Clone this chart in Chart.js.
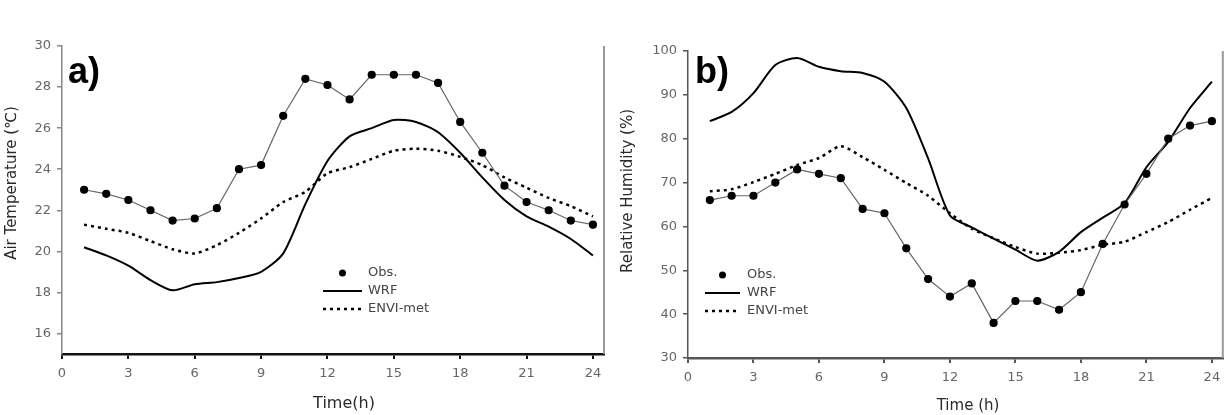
<!DOCTYPE html>
<html>
<head>
<meta charset="utf-8">
<script src="https://cdn.jsdelivr.net/npm/chart.js@4/dist/chart.umd.min.js"></script>
<style>
  body { margin: 0; background: #fff; }
  .panel { position: absolute; top: 0; width: 614px; height: 415px; }
  #pa { left: 0; }
  #pb { left: 614px; }
</style>
</head>
<body>
<div class="panel" id="pa"><canvas id="chartA"></canvas></div>
<div class="panel" id="pb"><canvas id="chartB"></canvas></div>
<script>
// Data
const hours = [1, 2, 3, 4, 5, 6, 7, 8, 9, 10, 11, 12, 13, 14, 15, 16, 17, 18, 19, 20, 21, 22, 23, 24];
const hourTicks = [0, 3, 6, 9, 12, 15, 18, 21, 24];

// a) Air temperature
const tempObs  = [23.0, 22.8, 22.5, 22.0, 21.5, 21.6, 22.1, 24.0, 24.2, 26.6, 28.4, 28.1, 27.4, 28.6, 28.6, 28.6, 28.2, 26.3, 24.8, 23.2, 22.4, 22.0, 21.5, 21.3];
const tempWrf  = [20.2, 19.8, 19.3, 18.6, 18.1, 18.4, 18.5, 18.7, 19.0, 19.9, 22.3, 24.4, 25.6, 26.0, 26.4, 26.3, 25.8, 24.8, 23.6, 22.5, 21.7, 21.2, 20.6, 19.8];
const tempEnvi = [21.3, 21.1, 20.9, 20.5, 20.1, 19.9, 20.3, 20.9, 21.6, 22.4, 22.9, 23.8, 24.1, 24.5, 24.9, 25.0, 24.9, 24.6, 24.2, 23.6, 23.1, 22.6, 22.2, 21.7];
const tempTicks = [16, 18, 20, 22, 24, 26, 28, 30];

// b) Relative humidity
const rhObs  = [66, 67, 67, 70, 73, 72, 71, 64, 63, 55, 48, 44, 47, 38, 43, 43, 41, 45, 56, 65, 72, 80, 83, 84];
const rhWrf  = [84, 86.1, 90.4, 96.8, 98.4, 96.4, 95.4, 95.0, 93, 87, 75.5, 62.5, 59.8, 57.2, 54.7, 52.2, 54.2, 58.7, 62, 65.3, 73.5, 79.3, 87, 93];
const rhEnvi = [68, 68.5, 70.1, 72, 74, 75.6, 78.3, 75.8, 72.9, 69.9, 67, 63, 59.5, 57.3, 55.3, 53.8, 54, 54.6, 55.8, 56.5, 58.7, 61, 63.8, 66.5];
const rhTicks = [30, 40, 50, 60, 70, 80, 90, 100];

const seriesNames = ['Obs.', 'WRF', 'ENVI-met'];

const FONT = '"DejaVu Sans", "Liberation Sans", Arial, sans-serif';
const LETTER_FONT = '"Liberation Sans", Arial, sans-serif';

function pts(arr) {
  return hours.map((h, i) => ({ x: h, y: arr[i] }));
}

// legend drawn inside the plot area
const insideLegend = {
  id: 'insideLegend',
  afterDraw(chart, args, opts) {
    const { ctx, chartArea } = chart;
    const x0 = chartArea.left + opts.left;
    let y = chartArea.top + opts.top;
    ctx.save();
    ctx.font = '13px ' + FONT;
    ctx.textBaseline = 'middle';
    chart.data.datasets.forEach(ds => {
      if (ds.pointRadius > 0) {
        ctx.fillStyle = ds.pointBackgroundColor;
        ctx.beginPath();
        ctx.arc(x0 + opts.lineLen / 2, y, 3.5, 0, Math.PI * 2);
        ctx.fill();
      } else {
        ctx.strokeStyle = ds.borderColor;
        ctx.lineWidth = ds.borderWidth;
        ctx.setLineDash(ds.borderDash || []);
        ctx.beginPath();
        ctx.moveTo(x0, y);
        ctx.lineTo(x0 + opts.lineLen, y);
        ctx.stroke();
        ctx.setLineDash([]);
      }
      ctx.fillStyle = '#444';
      ctx.fillText(ds.label, x0 + opts.lineLen + opts.gap, y);
      y += opts.spacing;
    });
    ctx.restore();
  }
};

// panel letter, axis titles and right frame line
const panelDeco = {
  id: 'panelDeco',
  afterDraw(chart, args, opts) {
    const { ctx, chartArea } = chart;
    ctx.save();
    ctx.strokeStyle = opts.frameColor;
    ctx.lineWidth = 2;
    ctx.beginPath();
    ctx.moveTo(chartArea.right, chartArea.top);
    ctx.lineTo(chartArea.right, chartArea.bottom);
    ctx.stroke();

    ctx.fillStyle = '#000';
    ctx.font = 'bold 36px ' + LETTER_FONT;
    ctx.textBaseline = 'alphabetic';
    ctx.fillText(opts.letter, chartArea.left + opts.dx, chartArea.top + opts.dy);

    // x title
    ctx.fillStyle = '#2a2a2a';
    ctx.textAlign = 'center';
    ctx.textBaseline = 'middle';
    ctx.font = opts.xTitleSize + 'px ' + FONT;
    ctx.fillText(opts.xTitle, chartArea.left + opts.xTitleX, chartArea.bottom + opts.xTitleY);

    // y title
    ctx.translate(chartArea.left + opts.yTitleX, chartArea.top + opts.yTitleY);
    ctx.rotate(-Math.PI / 2);
    ctx.font = '15px ' + FONT;
    ctx.fillText(opts.yTitle, 0, 0);
    ctx.restore();
  }
};

function makeChart(id, cfg) {
  const datasets = [
    {
      label: seriesNames[0],
      data: pts(cfg.obs),
      borderColor: '#666',
      borderWidth: 1.2,
      pointRadius: 3.5,
      pointBackgroundColor: '#000',
      pointBorderColor: '#000',
      tension: 0
    },
    {
      label: seriesNames[1],
      data: pts(cfg.wrf),
      borderColor: '#000',
      borderWidth: 2,
      pointRadius: 0,
      tension: 0.25
    },
    {
      label: seriesNames[2],
      data: pts(cfg.envi),
      borderColor: '#000',
      borderWidth: 2.5,
      borderDash: [3, 4],
      pointRadius: 0,
      tension: 0.25
    }
  ];

  return new Chart(document.getElementById(id), {
    type: 'line',
    data: { datasets },
    plugins: [insideLegend, panelDeco],
    options: {
      responsive: true,
      maintainAspectRatio: false,
      animation: false,
      layout: { padding: { top: cfg.top, right: cfg.right, left: 0, bottom: 0 } },
      plugins: {
        legend: { display: false },
        tooltip: { enabled: false },
        insideLegend: cfg.legend,
        panelDeco: cfg.deco
      },
      scales: {
        x: {
          type: 'linear',
          min: 0,
          max: 24.5,
          afterBuildTicks: s => { s.ticks = hourTicks.map(v => ({ value: v })); },
          afterFit: s => { s.height = cfg.xHeight; },
          ticks: { color: '#666', font: { family: FONT, size: 13 }, padding: 7, autoSkip: false, maxRotation: 0 },
          grid: { drawOnChartArea: false, tickLength: 5, color: cfg.xAxisColor, lineWidth: 2 },
          border: { color: cfg.xAxisColor, width: 2.5 }
        },
        y: {
          min: cfg.yMin,
          max: cfg.yMax,
          afterBuildTicks: s => { s.ticks = cfg.yTicks.map(v => ({ value: v })); },
          afterFit: s => { s.width = cfg.yWidth; },
          ticks: { color: '#666', font: { family: FONT, size: 13 }, padding: 6 },
          grid: { drawOnChartArea: false, tickLength: 5, color: cfg.yAxisColor, lineWidth: 1.5 },
          border: { color: cfg.yAxisColor, width: 1.5 }
        }
      }
    }
  });
}

makeChart('chartA', {
  obs: tempObs, wrf: tempWrf, envi: tempEnvi,
  yMin: 15, yMax: 30, yTicks: tempTicks,
  top: 46, right: 10, xHeight: 61, yWidth: 62,
  xAxisColor: '#111', yAxisColor: '#888',
  legend: { left: 261, top: 227, lineLen: 39, gap: 6, spacing: 18 },
  deco: {
    letter: 'a)', dx: 6, dy: 37, frameColor: '#999',
    xTitle: 'Time(h)', xTitleSize: 16, xTitleX: 282, xTitleY: 50,
    yTitle: 'Air Temperature (℃)', yTitleX: -50, yTitleY: 137
  }
});

makeChart('chartB', {
  obs: rhObs, wrf: rhWrf, envi: rhEnvi,
  yMin: 30, yMax: 100, yTicks: rhTicks,
  top: 51, right: 5, xHeight: 57, yWidth: 74,
  xAxisColor: '#555', yAxisColor: '#555',
  legend: { left: 17, top: 224, lineLen: 35, gap: 7, spacing: 18 },
  deco: {
    letter: 'b)', dx: 7, dy: 32, frameColor: '#999',
    xTitle: 'Time (h)', xTitleSize: 15, xTitleX: 280, xTitleY: 48,
    yTitle: 'Relative Humidity (%)', yTitleX: -60, yTitleY: 140
  }
});
</script>
</body>
</html>
